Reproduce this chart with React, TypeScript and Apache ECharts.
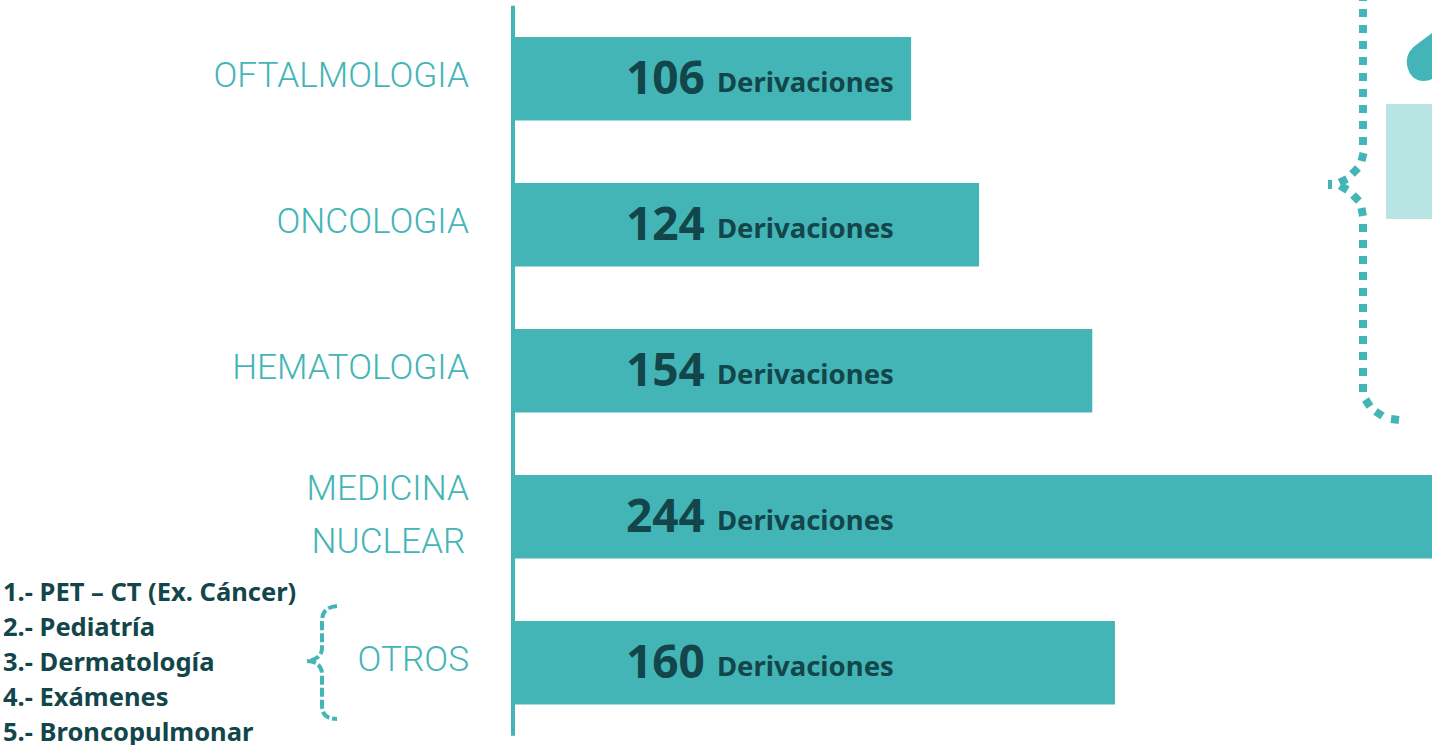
import React, { useEffect, useRef } from "react";
import * as echarts from "echarts";

const categories = ["OFTALMOLOGIA", "ONCOLOGIA", "HEMATOLOGIA", "MEDICINA\nNUCLEAR\u200A", "OTROS"];
const derivaciones = [106, 124, 154, 244, 160];
const unitLabel = "Derivaciones";
const otrosList = [
  "1.- PET – CT (Ex. Cáncer)",
  "2.- Pediatría",
  "3.- Dermatología",
  "4.- Exámenes",
  "5.- Broncopulmonar",
];

const TEAL = "#44B5B6";
const DARK = "#12464A";
const LIGHT = "#B8E5E3";

echarts.graphic.registerShape(
  "bigBraceLines",
  echarts.graphic.extendPath("M1363 -7 L1363 145 M1363 224 L1363 392", {})
);
echarts.graphic.registerShape(
  "bigBraceDots",
  echarts.graphic.extendPath(
    "M1363.5 153 L1361.5 161 M1358 168 L1352 174 M1347 179 L1339.5 182.5 M1340 185.5 L1347.5 190 M1353 195 L1359 201 M1361.5 208 L1363 216 M1365.5 399.5 L1370 406.5 M1375.5 411.5 L1382.5 416 M1391 419 L1399 420",
    {}
  )
);
echarts.graphic.registerShape(
  "smallBrace",
  echarts.graphic.extendPath(
    "M337 606 C326 607 322 612 322 622 L322 648 C322 656 316 660 307 661 M307 661 C316 661 322 666 322 674 L322 705 C322 714 326 719 337 719",
    {}
  )
);
echarts.graphic.registerShape(
  "drop",
  echarts.graphic.extendPath(
    "M1432 33 L1416 45 C1408 51 1406 58 1407 65 C1409 76 1416 81 1423 81 C1427 81 1430 80 1432 79 Z",
    {}
  )
);

const catFont = { color: TEAL, fontFamily: "Roboto", fontWeight: 300, fontSize: 35.2, lineHeight: 56 };

export default function App() {
  const ref = useRef<HTMLDivElement>(null);
  useEffect(() => {
    const chart = echarts.init(ref.current!, undefined, { renderer: "svg" });
    chart.setOption({
      animation: false,
      backgroundColor: "#fff",
      grid: { left: 511, top: 5.8, width: 921, height: 730, containLabel: false },
      xAxis: { type: "value", min: 0, max: 244, show: false },
      yAxis: {
        type: "category",
        inverse: true,
        data: categories,
        offset: -2,
        axisTick: { show: false },
        axisLine: { show: true, lineStyle: { color: TEAL, width: 4, cap: "butt" } },
        axisLabel: {
          margin: 44,
          align: "right",
          formatter: (v: string) => {
            const lines = v.split("\n");
            return lines
              .map((l, i) => (i === lines.length - 1 ? `{b|${l}}` : `{a|${l}}`))
              .join("\n");
          },
          rich: {
            a: { ...catFont, padding: [0, 0, 2, 0] },
            b: { ...catFont, padding: [0, 0, 8, 0] },
          },
        },
      },
      series: [
        {
          type: "bar",
          data: derivaciones,
          barWidth: 83.5,
          itemStyle: { color: TEAL },
          label: {
            show: true,
            position: [115, 13],
            formatter: (p: any) => `{n|${p.value}}{u|${unitLabel}}`,
            rich: {
              n: { fontFamily: "Noto Sans", fontWeight: 700, fontSize: 46, color: DARK, padding: [3, 0, 0, 0] },
              u: {
                fontFamily: "Noto Sans",
                fontWeight: 700,
                fontSize: 27.5,
                color: DARK,
                padding: [14, 0, 0, 12],
              },
            },
          },
        },
      ],
      graphic: [
        { type: "bigBraceLines", x: 0, y: 0, style: { fill: "none", stroke: TEAL, lineWidth: 8, lineDash: [8, 8] } },
        { type: "bigBraceDots", x: 0, y: 0, style: { fill: "none", stroke: TEAL, lineWidth: 8 } },
        { type: "line", shape: { x1: 1330, y1: 180, x2: 1330, y2: 189 }, style: { stroke: TEAL, lineWidth: 4 } },
        { type: "smallBrace", x: 0, y: 0, style: { fill: "none", stroke: TEAL, lineWidth: 4, lineDash: [9, 3] } },
        { type: "drop", x: 0, y: 0, style: { fill: TEAL } },
        { type: "rect", shape: { x: 1386, y: 104, width: 46, height: 115 }, style: { fill: LIGHT } },
        ...otrosList.map((t, i) => ({
          type: "text",
          x: 3,
          y: 591 + i * 35,
          style: {
            text: t,
            fill: DARK,
            fontFamily: "Noto Sans",
            fontWeight: 700,
            fontSize: 25.5,
            verticalAlign: "middle",
          },
        })),
      ],
    });
    return () => chart.dispose();
  }, []);
  return <div ref={ref} style={{ position: "fixed", left: 0, top: 0, width: 1432, height: 745 }} />;
}
